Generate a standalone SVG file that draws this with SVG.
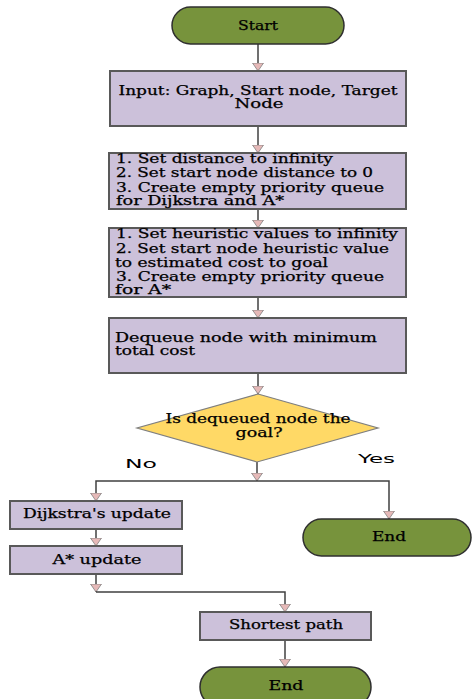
<svg xmlns="http://www.w3.org/2000/svg" width="472" height="699" viewBox="0 0 472 699">
<style>
.term{fill:#77933C;stroke:#2f2f2f;stroke-width:1.5}
.proc{fill:#CCC1DA;stroke:#595959;stroke-width:2}
.dec{fill:#FFD966;stroke:#7f7f7f;stroke-width:1.2}
.t{font-family:"DejaVu Serif","Liberation Serif",serif;font-size:12px;fill:#000;stroke:#000;stroke-width:0.25}
.c{text-anchor:middle}
.lbl{font-family:"DejaVu Sans","Liberation Sans",sans-serif;font-size:12px;fill:#000}
.con{fill:none;stroke:#404040;stroke-width:1.5}
</style>
<defs>
<marker id="ah" viewBox="0 0 9 12" refX="8.5" refY="6" markerWidth="9" markerHeight="12" markerUnits="userSpaceOnUse" orient="auto">
<path d="M0.5,0.5 L8.5,6 L0.5,11.5 Z" fill="#E6B9B8" stroke="#7f7f7f" stroke-width="0.8"/>
</marker>
</defs>
<g id="connectors">
<path class="con" d="M258,44 V71" marker-end="url(#ah)"/>
<path class="con" d="M258,126 V153" marker-end="url(#ah)"/>
<path class="con" d="M258,209 V228" marker-end="url(#ah)"/>
<path class="con" d="M258,297 V318" marker-end="url(#ah)"/>
<path class="con" d="M258,373 V394" marker-end="url(#ah)"/>
<path class="con" d="M257,462 V481" marker-end="url(#ah)"/>
<path class="con" d="M257,481 H96 V501" marker-end="url(#ah)"/>
<path class="con" d="M257,481 H389 V519" marker-end="url(#ah)"/>
<path class="con" d="M96,529 V546" marker-end="url(#ah)"/>
<path class="con" d="M96,574 V592" marker-end="url(#ah)"/>
<path class="con" d="M96,592 H285 V612" marker-end="url(#ah)"/>
<path class="con" d="M285,640 V667" marker-end="url(#ah)"/>
</g>
<g id="start">
<rect class="term" x="172" y="7" width="172" height="37" rx="18.5"/>
<text class="t c" x="258" y="30" textLength="40" lengthAdjust="spacingAndGlyphs">Start</text>
</g>
<g id="input">
<rect class="proc" x="110" y="71" width="296" height="55"/>
<text class="t c" x="258" y="95" textLength="279" lengthAdjust="spacingAndGlyphs">Input: Graph, Start node, Target</text>
<text class="t c" x="259" y="108" textLength="49" lengthAdjust="spacingAndGlyphs">Node</text>
</g>
<g id="init-dijkstra">
<rect class="proc" x="109" y="153" width="297" height="56"/>
<text class="t" x="116" y="163" textLength="217" lengthAdjust="spacingAndGlyphs">1. Set distance to infinity</text>
<text class="t" x="116" y="177" textLength="257" lengthAdjust="spacingAndGlyphs">2. Set start node distance to 0</text>
<text class="t" x="116" y="192" textLength="268" lengthAdjust="spacingAndGlyphs">3. Create empty priority queue</text>
<text class="t" x="116" y="205" textLength="168" lengthAdjust="spacingAndGlyphs">for Dijkstra and A*</text>
</g>
<g id="init-astar">
<rect class="proc" x="109" y="228" width="297" height="69"/>
<text class="t" x="116" y="238" textLength="282" lengthAdjust="spacingAndGlyphs">1. Set heuristic values to infinity</text>
<text class="t" x="116" y="253" textLength="273" lengthAdjust="spacingAndGlyphs">2. Set start node heuristic value</text>
<text class="t" x="115" y="267" textLength="213" lengthAdjust="spacingAndGlyphs">to estimated cost to goal</text>
<text class="t" x="116" y="281" textLength="268" lengthAdjust="spacingAndGlyphs">3. Create empty priority queue</text>
<text class="t" x="115" y="294" textLength="56" lengthAdjust="spacingAndGlyphs">for A*</text>
</g>
<g id="dequeue">
<rect class="proc" x="109" y="318" width="297" height="55"/>
<text class="t" x="115" y="342" textLength="262" lengthAdjust="spacingAndGlyphs">Dequeue node with minimum</text>
<text class="t" x="115" y="355" textLength="80" lengthAdjust="spacingAndGlyphs">total cost</text>
</g>
<g id="decision">
<polygon class="dec" points="258,394 378,428 257,462 137,428"/>
<text class="t c" x="258" y="423" textLength="185" lengthAdjust="spacingAndGlyphs">Is dequeued node the</text>
<text class="t c" x="259" y="437" textLength="47" lengthAdjust="spacingAndGlyphs">goal?</text>
<text class="lbl" x="125" y="468" textLength="32" lengthAdjust="spacingAndGlyphs">No</text>
<text class="lbl" x="358" y="463" textLength="37" lengthAdjust="spacingAndGlyphs">Yes</text>
</g>
<g id="dijkstra-update">
<rect class="proc" x="10" y="501" width="172" height="28"/>
<text class="t c" x="97" y="518" textLength="148" lengthAdjust="spacingAndGlyphs">Dijkstra's update</text>
</g>
<g id="astar-update">
<rect class="proc" x="10" y="546" width="172" height="28"/>
<text class="t c" x="97" y="564" textLength="89" lengthAdjust="spacingAndGlyphs">A* update</text>
</g>
<g id="end-yes">
<rect class="term" x="303" y="519" width="168" height="37" rx="18.5"/>
<text class="t c" x="389" y="541" textLength="34" lengthAdjust="spacingAndGlyphs">End</text>
</g>
<g id="shortest-path">
<rect class="proc" x="200" y="612" width="171" height="28"/>
<text class="t c" x="286" y="629" textLength="114" lengthAdjust="spacingAndGlyphs">Shortest path</text>
</g>
<g id="end">
<rect class="term" x="200" y="667" width="171" height="40" rx="20"/>
<text class="t c" x="286" y="690" textLength="35" lengthAdjust="spacingAndGlyphs">End</text>
</g>
</svg>
